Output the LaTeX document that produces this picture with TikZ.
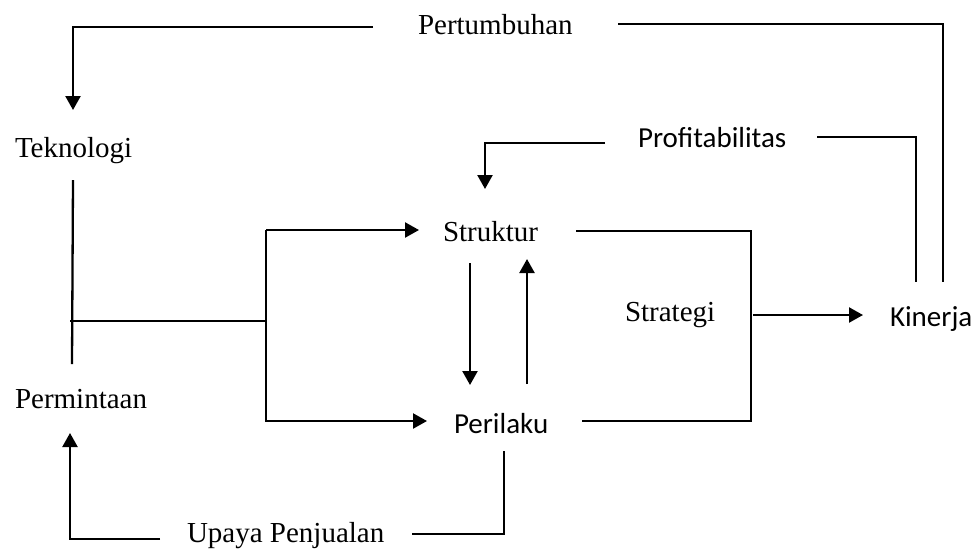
\documentclass[tikz,border=0pt]{standalone}
\usepackage{fontspec}
\setmainfont{Liberation Serif}
\newfontfamily\calfont{Carlito}
\usetikzlibrary{arrows.meta}
\begin{document}
\begin{tikzpicture}[x=1pt,y=-1pt,
  lbl/.style={inner sep=0pt,outer sep=0pt,anchor=base west,font=\fontsize{29}{34}\selectfont},
  slbl/.style={lbl,font=\fontsize{29}{34}\selectfont\calfont},
  conn/.style={line width=2.3pt,line join=miter},
  arr/.style={conn,-{Triangle[length=14pt,width=15pt]}}]
\useasboundingbox (0,0) rectangle (976,550);
% texts
\node[lbl]  (pert) at (418,34)  {Pertumbuhan};
\node[lbl]  (tek)  at (15,157)  {Teknologi};
\node[slbl] (prof) at (638,147) {Profitabilitas};
\node[lbl]  (str)  at (443,241) {Struktur};
\node[lbl]  (strat) at (625,321) {Strategi};
\node[slbl] (kin)  at (890,326) {Kinerja};
\node[lbl]  (perm) at (15,408)  {Permintaan};
\node[slbl] (peri) at (454,433) {Perilaku};
\node[lbl]  (upaya) at (187,542) {Upaya Penjualan};
% coordinates
\coordinate (p1) at (373,27); \coordinate (p2) at (73,27); \coordinate (p3) at (73,110);
\coordinate (q1) at (618,24); \coordinate (q2) at (943,24); \coordinate (q3) at (943,282);
\coordinate (r1) at (605,143); \coordinate (r2) at (485,143); \coordinate (r3) at (485,189);
\coordinate (s1) at (817,137); \coordinate (s2) at (916,137); \coordinate (s3) at (916,282);
\coordinate (t1) at (73,180); \coordinate (t2) at (72,364);
\coordinate (h1) at (70,321); \coordinate (h2) at (266,321);
\coordinate (v1) at (419,230); \coordinate (v2) at (266,230); \coordinate (v3) at (266,421); \coordinate (v4) at (427,421);
\coordinate (d1) at (470,263); \coordinate (d2) at (470,385);
\coordinate (u1) at (527,384); \coordinate (u2) at (527,259);
\coordinate (b1) at (576,231); \coordinate (b2) at (751,231); \coordinate (b3) at (751,421); \coordinate (b4) at (582,421);
\coordinate (k1) at (753,315); \coordinate (k2) at (863,315);
\coordinate (e1) at (504,451); \coordinate (e2) at (504,534); \coordinate (e3) at (412,534);
\coordinate (f1) at (160,539); \coordinate (f2) at (70,539); \coordinate (f3) at (70,433);
% connectors
\draw[arr] (p1) -- (p2) -- (p3);
\draw[conn] (q1) -- (q2) -- (q3);
\draw[arr] (r1) -- (r2) -- (r3);
\draw[conn] (s1) -- (s2) -- (s3);
\draw[conn] (t1) -- (t2);
\draw[conn] (h1) -- (h2);
\draw[arr] (v2) -- (v1);
\draw[arr] (v2) -- (v3) -- (v4);
\draw[arr] (d1) -- (d2);
\draw[arr] (u1) -- (u2);
\draw[conn] (b1) -- (b2) -- (b3) -- (b4);
\draw[arr] (k1) -- (k2);
\draw[conn] (e1) -- (e2) -- (e3);
\draw[arr] (f1) -- (f2) -- (f3);
\end{tikzpicture}
\end{document}
